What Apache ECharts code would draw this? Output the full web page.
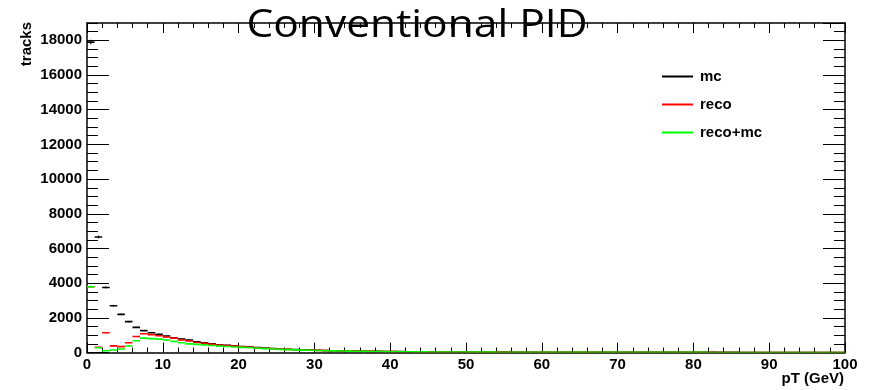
<!DOCTYPE html>
<html><head><meta charset="utf-8">
<script src="https://cdn.jsdelivr.net/npm/echarts@6/dist/echarts.min.js"></script>
<style>html,body{margin:0;padding:0;background:#fff}#c{width:870px;height:390px}</style>
</head><body><div id="c"></div>
<script>
// pT bins: 1 GeV wide, 0..100 GeV
const binWidth = 1;
const seriesNames = ['mc', 'reco', 'reco+mc'];
const seriesColors = ['#000000', '#ff0000', '#00ff00'];
const mc = [
  17900, 6660, 3750, 2700, 2200, 1780, 1450, 1260, 1140, 1050,
  950, 850, 780, 720, 610, 560, 500, 450, 410, 380,
  340, 310, 280, 255, 230, 205, 185, 170, 155, 142,
  128, 116, 105, 96, 88, 80, 73, 67, 62, 57,
  52, 48, 44, 41, 38, 35, 33, 31, 29, 27,
  25, 24, 22, 21, 20, 19, 18, 17, 16, 15,
  14, 14, 13, 12, 12, 11, 11, 10, 10, 9,
  9, 9, 8, 8, 8, 7, 7, 7, 6, 6,
  6, 6, 5, 5, 5, 5, 4, 4, 4, 4,
  4, 3, 3, 3, 3, 3, 3, 2, 2, 2
];
const reco = [
  3790, 300, 1140, 380, 340, 565, 920, 1080, 1030, 970,
  893, 830, 720, 663, 580, 530, 475, 430, 395, 365,
  330, 300, 270, 245, 220, 196, 178, 162, 148, 136,
  122, 110, 100, 92, 84, 77, 70, 64, 59, 54,
  50, 46, 42, 39, 36, 34, 31, 29, 27, 26,
  24, 23, 21, 20, 19, 18, 17, 16, 15, 14,
  13, 13, 12, 11, 11, 10, 10, 9, 9, 8,
  8, 8, 7, 7, 7, 6, 6, 6, 5, 5,
  5, 5, 5, 4, 4, 4, 4, 4, 3, 3,
  3, 3, 3, 3, 2, 2, 2, 2, 2, 2
];
const recoMc = [
  3790, 270, 100, 140, 200, 375, 680, 830, 800, 770,
  720, 640, 560, 500, 470, 440, 400, 370, 345, 320,
  295, 270, 245, 222, 200, 180, 163, 150, 137, 126,
  114, 103, 94, 86, 79, 72, 66, 60, 56, 51,
  47, 43, 40, 37, 34, 32, 30, 28, 26, 25,
  23, 22, 20, 19, 18, 17, 16, 15, 14, 13,
  13, 12, 11, 11, 10, 10, 9, 9, 8, 8,
  8, 7, 7, 7, 6, 6, 6, 5, 5, 5,
  5, 5, 4, 4, 4, 4, 4, 3, 3, 3,
  3, 3, 3, 2, 2, 2, 2, 2, 2, 2
];
const xTicks = [0, 10, 20, 30, 40, 50, 60, 70, 80, 90, 100];
const yTicks = [0, 2000, 4000, 6000, 8000, 10000, 12000, 14000, 16000, 18000];
const allValues = [mc, reco, recoMc];

const FONT = '"Liberation Sans", Arial, Helvetica, sans-serif';

function makeRender(color) {
  return function (params, api) {
    const x0 = api.value(0), v = api.value(1);
    if (!(v > 0)) return;
    const p0 = api.coord([x0, v]);
    const p1 = api.coord([x0 + binWidth, v]);
    const e = Math.sqrt(v);
    const pt = api.coord([x0 + binWidth / 2, v + e]);
    const pb = api.coord([x0 + binWidth / 2, Math.max(0, v - e)]);
    return {
      type: 'group',
      children: [
        { type: 'line', shape: { x1: p0[0], y1: p0[1], x2: p1[0], y2: p1[1] }, style: { stroke: color, lineWidth: 1.6 } },
        { type: 'line', shape: { x1: pt[0], y1: pt[1], x2: pb[0], y2: pb[1] }, style: { stroke: color, lineWidth: 1 } }
      ]
    };
  };
}

const series = allValues.map((vals, k) => ({
  name: seriesNames[k],
  type: 'custom',
  xAxisIndex: 0,
  yAxisIndex: 0,
  clip: true,
  itemStyle: { color: seriesColors[k] },
  renderItem: makeRender(seriesColors[k]),
  data: vals.map((v, i) => [i * binWidth, v])
}));

const xMin = xTicks[0], xMax = xTicks[xTicks.length - 1], xInt = xTicks[1] - xTicks[0];
const yMin = yTicks[0], yInt = yTicks[1] - yTicks[0], yMax = 19000;

const lineStyle = { color: '#000', width: 1.5 };
function xAx(pos, labels) {
  return {
    type: 'value', min: xMin, max: xMax, interval: xInt, position: pos,
    axisLine: { show: true, onZero: false, lineStyle },
    axisTick: { show: true, inside: true, length: 10, lineStyle: { color: '#000', width: 1 } },
    minorTick: { show: true, splitNumber: 5, length: 5, lineStyle: { color: '#000', width: 1 } },
    axisLabel: { show: labels, color: '#000', fontWeight: 'bold', fontSize: 15, fontFamily: FONT, margin: 5, formatter: v => String(v) },
    splitLine: { show: false }, minorSplitLine: { show: false }
  };
}
function yAx(pos, interval, tickLen, labels, line) {
  return {
    type: 'value', min: yMin, max: yMax, interval: interval, position: pos,
    axisLine: { show: line, onZero: false, lineStyle },
    axisTick: { show: true, inside: true, length: tickLen, lineStyle: { color: '#000', width: 1 } },
    axisLabel: { show: labels, color: '#000', fontWeight: 'bold', fontSize: 15, fontFamily: FONT, margin: 5, showMaxLabel: false, formatter: v => String(v) },
    splitLine: { show: false }
  };
}

const chart = echarts.init(document.getElementById('c'), null, { renderer: 'canvas' });
chart.setOption({
  animation: false,
  backgroundColor: '#fff',
  grid: { left: 87, right: 25, top: 23, bottom: 37.5, containLabel: false },
  xAxis: [xAx('bottom', true), xAx('top', false)],
  yAxis: [
    yAx('left', yInt, 22, true, true),
    yAx('left', 500, 11, false, false),
    yAx('right', yInt, 22, false, true),
    yAx('right', 500, 11, false, false)
  ],
  legend: {
    data: seriesNames,
    orient: 'vertical',
    left: 662, top: 69, padding: 0,
    icon: 'rect', itemWidth: 31, itemHeight: 2, itemGap: 13,
    textStyle: { color: '#000', fontWeight: 'bold', fontSize: 15, fontFamily: FONT, padding: [0, 0, 0, 2] }
  },
  graphic: [
    { type: 'text', x: 417, y: 26, scaleX: 1.12, style: { text: 'Conventional PID', font: '38px "Open Sans", sans-serif', fill: '#000', textAlign: 'center', textVerticalAlign: 'middle' }, z: 100 },
    { type: 'text', x: 27, y: 22, rotation: Math.PI / 2, style: { text: 'tracks', font: 'bold 15px ' + FONT, fill: '#000', textAlign: 'right', textVerticalAlign: 'middle' } },
    { type: 'text', x: 844, y: 379, style: { text: 'pT (GeV)', font: 'bold 15px ' + FONT, fill: '#000', textAlign: 'right', textVerticalAlign: 'middle' } }
  ],
  series: series
});
</script></body></html>
